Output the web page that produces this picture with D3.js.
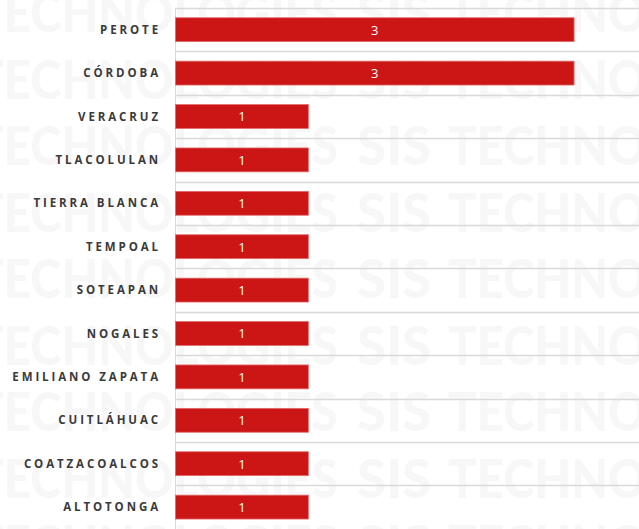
<!DOCTYPE html>
<meta charset="utf-8">
<script src="https://d3js.org/d3.v7.min.js"></script>
<style>
  body { margin: 0; background: white; }
  svg { display: block; }
</style>
<body>
<div id="chart"></div>
<script>
var municipios = ["PEROTE", "CÓRDOBA", "VERACRUZ", "TLACOLULAN", "TIERRA BLANCA", "TEMPOAL",
                  "SOTEAPAN", "NOGALES", "EMILIANO ZAPATA", "CUITLÁHUAC", "COATZACOALCOS", "ALTOTONGA"];
var casos = [3, 3, 1, 1, 1, 1, 1, 1, 1, 1, 1, 1];
var marcaAgua = ["TECHNOLOGIES", "SIS", "TECHNOLOGIES"];

var W = 639, H = 529;
var marginLeft = 175, marginTop = 8;

var svg = d3.select("#chart").append("svg")
    .attr("width", W)
    .attr("height", H);

// watermark rows, behind everything
var wm = svg.append("g").attr("fill", "#f7f7f7")
    .style("font-family", "Lato, 'Open Sans', sans-serif")
    .style("font-weight", 900)
    .style("font-size", "54px");
d3.range(-1, 9).forEach(function(i) {
  var yb = 32 + i * 66.5;
  wm.append("text").attr("x", -25).attr("y", yb).attr("textLength", 363)
    .attr("lengthAdjust", "spacingAndGlyphs").text(marcaAgua[0]);
  wm.append("text").attr("x", 357).attr("y", yb).attr("textLength", 74)
    .attr("lengthAdjust", "spacingAndGlyphs").text(marcaAgua[1]);
  wm.append("text").attr("x", 448).attr("y", yb).attr("textLength", 363)
    .attr("lengthAdjust", "spacingAndGlyphs").text(marcaAgua[2]);
});

var y = d3.scaleBand()
    .domain(municipios)
    .range([marginTop, marginTop + 12 * 43.4])
    .paddingInner(0.45)
    .paddingOuter(0.225);

var x = d3.scaleLinear()
    .domain([0, 3.5])
    .range([marginLeft, W + 1]);

var step = y.step();
function edge(d) { return Math.round(y(d) + y.bandwidth() / 2 - step / 2) + 0.5; }

// horizontal gridlines at band edges
svg.append("g").selectAll("line")
  .data(municipios)
  .join("line")
    .attr("x1", marginLeft)
    .attr("x2", W)
    .attr("y1", edge)
    .attr("y2", edge)
    .attr("stroke", "#d9d9d9")
    .attr("stroke-width", 1.5);

// vertical axis line
svg.append("line")
    .attr("x1", marginLeft + 0.5).attr("x2", marginLeft + 0.5)
    .attr("y1", marginTop).attr("y2", H)
    .attr("stroke", "#d9d9d9")
    .attr("stroke-width", 1);

// bars
svg.append("g").selectAll("rect")
  .data(municipios)
  .join("rect")
    .attr("x", x(0) + 0.5)
    .attr("y", function(d) { return y(d); })
    .attr("width", function(d, i) { return x(casos[i]) - x(0); })
    .attr("height", y.bandwidth())
    .attr("fill", "#cc1515")
    .attr("stroke", "#e36a6a")
    .attr("stroke-width", 0.8);

// value labels
svg.append("g").selectAll("text")
  .data(municipios)
  .join("text")
    .attr("x", function(d, i) { return (x(0) + x(casos[i])) / 2 + 0.5; })
    .attr("y", function(d) { return y(d) + y.bandwidth() / 2; })
    .attr("dy", "0.38em")
    .attr("text-anchor", "middle")
    .attr("fill", "white")
    .style("font-family", "'Open Sans', sans-serif")
    .style("font-size", "13px")
    .text(function(d, i) { return casos[i]; });

// category labels
svg.append("g").selectAll("text")
  .data(municipios)
  .join("text")
    .attr("x", 161)
    .attr("y", function(d) { return y(d) + y.bandwidth() / 2; })
    .attr("dy", "0.36em")
    .attr("text-anchor", "end")
    .attr("fill", "#3a3a3a")
    .style("font-family", "'Open Sans', sans-serif")
    .style("font-weight", 700)
    .style("font-size", "11.5px")
    .style("letter-spacing", "2.9px")
    .text(function(d) { return d; });
</script>
</body>
